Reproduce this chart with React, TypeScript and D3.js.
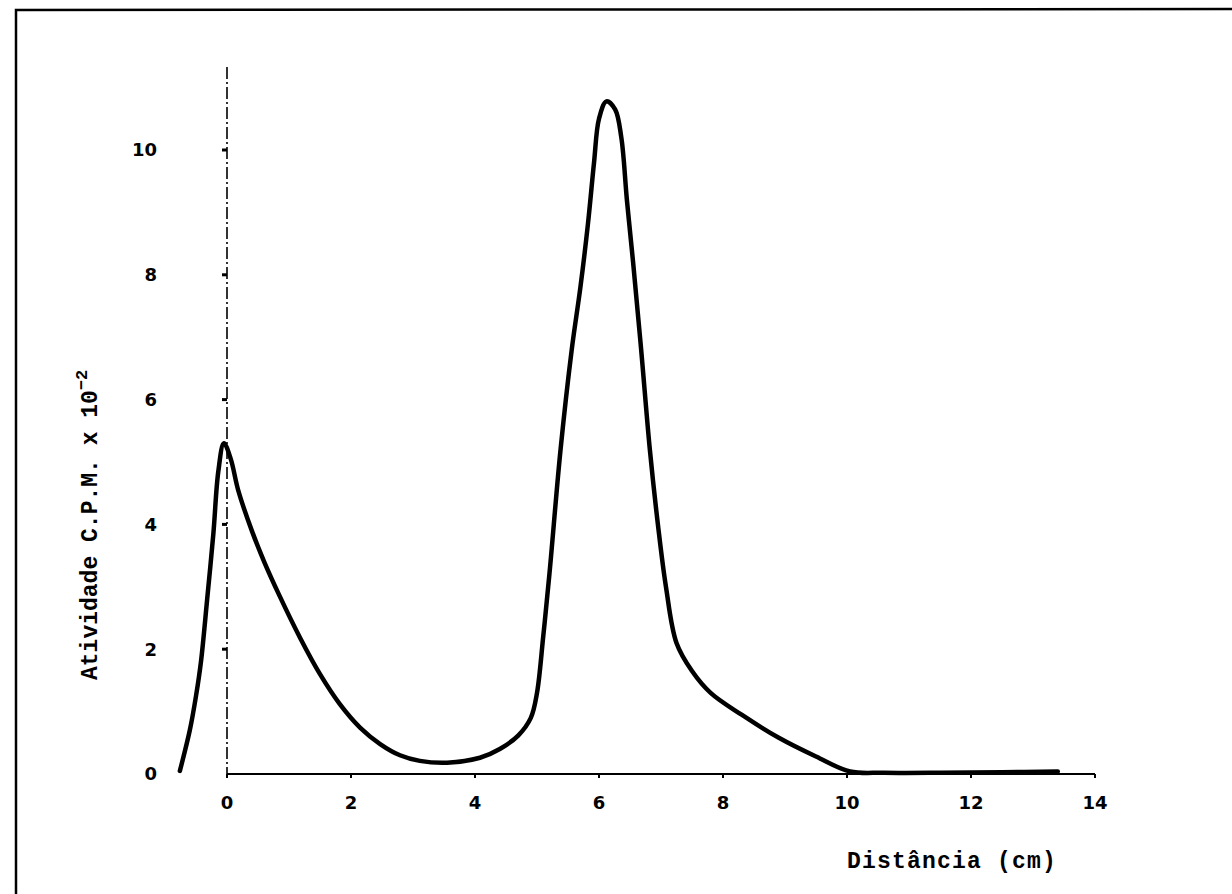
import React from 'react';
import * as d3 from 'd3';

// distance (cm) and activity (C.P.M. x 10^-2)
const distance = [
  -0.76, -0.6, -0.5, -0.42, -0.32, -0.22, -0.14, -0.05, 0.06, 0.18, 0.4, 0.6, 0.85, 1.18, 1.5, 1.82,
  2.15, 2.47, 2.79, 3.11, 3.55, 4.08, 4.4, 4.7, 4.9, 5.0, 5.1, 5.2, 5.38, 5.56, 5.7, 5.82, 5.92, 6.0,
  6.12, 6.26, 6.36, 6.45, 6.55, 6.68, 6.82, 6.95, 7.08, 7.25, 7.5, 7.8, 8.3, 8.9, 9.5, 10.05, 10.6,
  11.5, 12.5, 13.4,
];
const activity = [
  0.05, 0.7, 1.25, 1.8, 2.8, 3.85, 4.85, 5.3, 5.05, 4.55, 3.9, 3.4, 2.85, 2.18, 1.6, 1.12,
  0.74, 0.48, 0.3, 0.21, 0.18, 0.26, 0.4, 0.62, 0.9, 1.3, 2.2, 3.2, 5.2, 6.8, 7.8, 8.8, 9.8, 10.5,
  10.78, 10.65, 10.2, 9.2, 8.2, 6.8, 5.2, 4.0, 3.0, 2.1, 1.65, 1.3, 0.95, 0.58, 0.28, 0.04, 0.02,
  0.02, 0.03, 0.04,
];
const xTicks = [0, 2, 4, 6, 8, 10, 12, 14];
const yTicks = [0, 2, 4, 6, 8, 10];

const x = d3.scaleLinear().domain([0, 14]).range([227, 1095]);
const y = d3.scaleLinear().domain([0, 10]).range([774, 150]);

const points: [number, number][] = distance.map((d, i) => [d, activity[i]]);
const line = d3
  .line<[number, number]>()
  .x(d => x(d[0]))
  .y(d => y(d[1]))
  .curve(d3.curveCatmullRom.alpha(0.5));

const tickFont = '"DejaVu Sans", "Liberation Sans", sans-serif';
const titleFont = '"Liberation Mono", "Courier New", monospace';

export default function App() {
  return (
    <svg
      width={1232}
      height={894}
      style={{ position: 'absolute', left: 0, top: 0, background: '#fff' }}
    >
      {/* frame remnants */}
      <path d="M16,894 L16,10 L1232,9" fill="none" stroke="#000" strokeWidth={2.5} />

      {/* y axis (dash-dot) */}
      <line
        x1={x(0)}
        x2={x(0)}
        y1={67}
        y2={y(0)}
        stroke="#000"
        strokeWidth={1.6}
        strokeDasharray="12 3 2 3"
      />
      {yTicks.map(t => (
        <g key={'y' + t}>
          {t > 0 && <line x1={x(0) - 5} x2={x(0)} y1={y(t)} y2={y(t)} stroke="#000" strokeWidth={3} />}
          <text
            x={157}
            y={y(t)}
            dy="0.35em"
            textAnchor="end"
            fontFamily={tickFont}
            fontWeight="bold"
            fontSize={18}
          >
            {t}
          </text>
        </g>
      ))}

      {/* x axis */}
      <line x1={x(0)} x2={x(14)} y1={y(0)} y2={y(0)} stroke="#000" strokeWidth={2} />
      {xTicks.map(t => (
        <g key={'x' + t}>
          <line x1={x(t)} x2={x(t)} y1={y(0)} y2={y(0) + 4} stroke="#000" strokeWidth={2} />
          <text
            x={x(t)}
            y={809}
            textAnchor="middle"
            fontFamily={tickFont}
            fontWeight="bold"
            fontSize={18}
          >
            {t}
          </text>
        </g>
      ))}

      {/* curve */}
      <path d={line(points) ?? ''} fill="none" stroke="#000" strokeWidth={4.5} strokeLinejoin="round" strokeLinecap="round" />

      {/* titles */}
      <text
        x={847}
        y={868}
        fontFamily={titleFont}
        fontWeight="bold"
        fontSize={23}
        letterSpacing={1.2}
      >
        Distância (cm)
      </text>
      <text
        transform="translate(97,680) rotate(-90)"
        fontFamily={titleFont}
        fontWeight="bold"
        fontSize={23}
      >
        Atividade C.P.M. x 10
        <tspan dy={-10} fontSize={17}>−2</tspan>
      </text>
    </svg>
  );
}
